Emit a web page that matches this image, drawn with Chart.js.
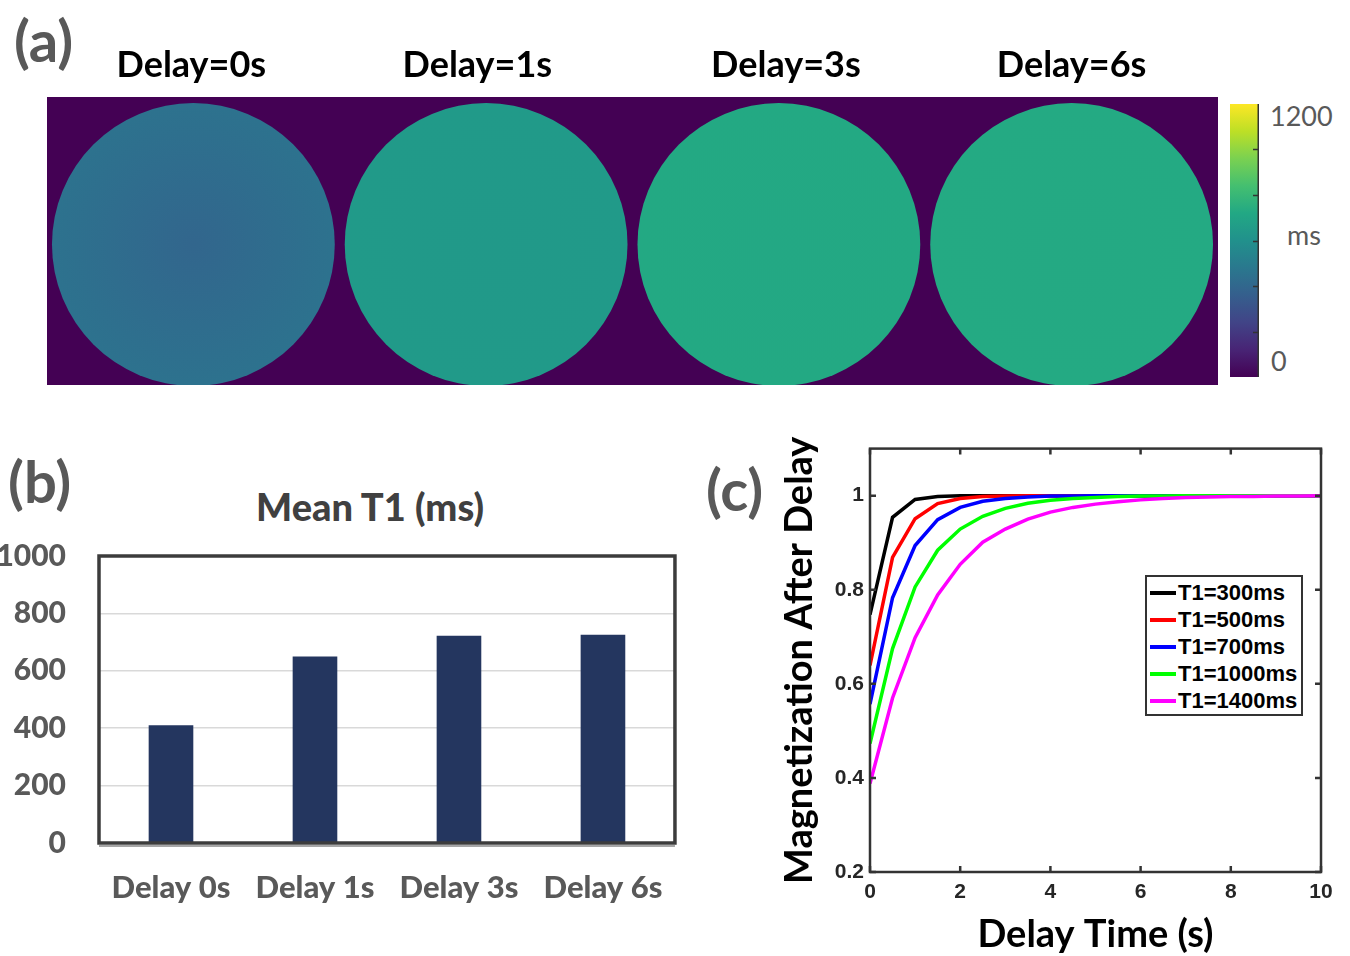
<!DOCTYPE html>
<html>
<head>
<meta charset="utf-8">
<title>T1 delay figure</title>
<script src="https://cdn.jsdelivr.net/npm/chart.js@4.4.1/dist/chart.umd.min.js"></script>
<style>
  body { margin: 0; background: #fff; }
  #page { position: relative; width: 1350px; height: 956px; overflow: hidden; font-family: Lato, sans-serif; }
  .box { position: absolute; }
  .panel { position: absolute; font-weight: 700; color: #595959; font-size: 58px; line-height: 1; }
  .cb { position: absolute; color: #595959; font-size: 27px; line-height: 1; }
  #barTitle { position: absolute; left: 200px; width: 340px; top: 483px; text-align: center; font-weight: 900;
              font-size: 38px; line-height: 46px; color: #404040; }
  #legend { position: absolute; left: 1145px; top: 575px; width: 154px; height: 135px; border: 2px solid #333;
            background: #fff; font-family: 'Liberation Sans', Arial, sans-serif; font-weight: 700; font-size: 22px; color: #000; }
  #legend .row { display: flex; align-items: center; height: 27px; }
  #legend .sw { width: 26px; height: 4px; margin: 0 2px 0 3px; }
</style>
</head>
<body>
<div id="page">
  <div class="panel" style="left:14px; top:11px;">(a)</div>
  <div class="panel" style="left:8px; top:452px;">(b)</div>
  <div class="panel" style="left:706px; top:460px;">(c)</div>

  <div class="box" style="left:47px; top:40px; width:1171px; height:345px;"><canvas id="mapChart"></canvas></div>
  <div class="box" style="left:1230px; top:104px; width:29px; height:273px;"><canvas id="cbChart"></canvas></div>
  <div class="cb" style="left:1270px; top:102px;">1200</div>
  <div class="cb" style="left:1287px; top:221px;">ms</div>
  <div class="cb" style="left:1271px; top:347px;">0</div>

  <div id="barTitle">Mean T1 (ms)</div>
  <div class="box" style="left:0px; top:478px; width:690px; height:440px;"><canvas id="barChart"></canvas></div>
  <div class="box" style="left:760px; top:430px; width:590px; height:526px;"><canvas id="lineChart"></canvas></div>
  <div id="legend"></div>
</div>

<script>
// ---- data ----
const mapTitles = ['Delay=0s', 'Delay=1s', 'Delay=3s', 'Delay=6s'];
const mapCenterT1 = [395, 640, 722, 726];   // T1 (ms) in the middle of each phantom
const mapEdgeT1 = [452, 648, 724, 728];     // T1 (ms) near the rim
const cbMax = 1200;
const cbTicks = [200, 400, 600, 800, 1000];

const delayLabels = ['Delay 0s', 'Delay 1s', 'Delay 3s', 'Delay 6s'];
const meanT1 = [410, 650, 722, 726];

const delayTime = [0, 0.5, 1, 1.5, 2, 2.5, 3, 3.5, 4, 4.5, 5, 5.5, 6, 6.5, 7, 7.5, 8, 8.5, 9, 9.5, 10];
const m300 = [0.747, 0.954, 0.992, 0.998, 0.9996, 1, 1, 1, 1, 1, 1, 1, 1, 1, 1, 1, 1, 1, 1, 1, 1];
const m500 = [0.639, 0.869, 0.951, 0.983, 0.994, 0.998, 0.999, 1, 1, 1, 1, 1, 1, 1, 1, 1, 1, 1, 1, 1, 1];
const m700 = [0.557, 0.783, 0.894, 0.949, 0.975, 0.988, 0.994, 0.997, 0.999, 0.999, 1, 1, 1, 1, 1, 1, 1, 1, 1, 1, 1];
const m1000 = [0.473, 0.675, 0.806, 0.884, 0.929, 0.956, 0.973, 0.984, 0.990, 0.994, 0.996, 0.998, 0.999, 0.999, 1, 1, 1, 1, 1, 1, 1];
const m1400 = [0.388, 0.570, 0.698, 0.789, 0.854, 0.901, 0.929, 0.950, 0.965, 0.975, 0.982, 0.987, 0.991, 0.994, 0.996, 0.997, 0.998, 0.998, 0.999, 0.999, 1];
const seriesNames = ['T1=300ms', 'T1=500ms', 'T1=700ms', 'T1=1000ms', 'T1=1400ms'];
const seriesColors = ['#000000', '#ff0000', '#0000ff', '#00ff00', '#ff00ff'];
const magTicks = [0.2, 0.4, 0.6, 0.8, 1];

// ---- helpers ----
Chart.defaults.font.family = 'Lato';
Chart.defaults.animation = false;
Chart.defaults.plugins.legend.display = false;
Chart.defaults.plugins.tooltip.enabled = false;

const viridisStops = ['#440154', '#482475', '#414487', '#355f8d', '#2a788e', '#21918c',
                      '#22a884', '#44bf70', '#7ad151', '#bddf26', '#fde725'];
function hexRgb(h) {
  return [parseInt(h.slice(1, 3), 16), parseInt(h.slice(3, 5), 16), parseInt(h.slice(5, 7), 16)];
}
function viridis(t) {
  t = Math.max(0, Math.min(1, t));
  const p = t * 10, i = Math.min(9, Math.floor(p)), f = p - i;
  const a = hexRgb(viridisStops[i]), b = hexRgb(viridisStops[i + 1]);
  const c = a.map((v, k) => Math.round(v + (b[k] - v) * f));
  return 'rgb(' + c.join(',') + ')';
}

// ---- (a) T1 maps ----
const mapRadius = 0.483;
const titleNudge = [-0.007, -0.03, 0.024, 0];   // headings are not exactly over the discs
function radiusPx(chart) {
  const x = chart.scales.x;
  if (!x) return 0;
  const r = x.getPixelForValue(mapRadius) - x.getPixelForValue(0);
  return isFinite(r) && r > 0 ? r : 0;
}
new Chart(document.getElementById('mapChart'), {
  type: 'scatter',
  data: {
    datasets: [{
      data: mapTitles.map((t, i) => ({ x: i + 0.5, y: -0.012 })),
      clip: 0,
      borderWidth: 0,
      pointRadius: (c) => radiusPx(c.chart),
      backgroundColor: (c) => {
        const i = c.dataIndex;
        const flat = viridis(meanT1[i] / cbMax);
        if (c.type !== 'data' || !c.parsed) return flat;
        const { x, y } = c.chart.scales;
        const cx = x.getPixelForValue(c.parsed.x), cy = y.getPixelForValue(c.parsed.y);
        const r = radiusPx(c.chart);
        if (!isFinite(cx) || !isFinite(cy) || !(r > 0)) return flat;
        const g = c.chart.ctx.createRadialGradient(cx, cy, 0, cx, cy, r);
        g.addColorStop(0, viridis(mapCenterT1[i] / cbMax));
        g.addColorStop(1, viridis(mapEdgeT1[i] / cbMax));
        return g;
      }
    }]
  },
  options: {
    responsive: true,
    maintainAspectRatio: false,
    events: [],
    layout: { padding: 0 },
    scales: {
      x: {
        position: 'top', min: 0, max: 4,
        grid: { display: false, drawTicks: false },
        border: { display: false },
        afterBuildTicks: (s) => { s.ticks = mapTitles.map((t, i) => ({ value: i + 0.5 + titleNudge[i] })); },
        afterFit: (s) => { s.height = 57; },
        ticks: {
          padding: 10, color: '#000',
          font: { size: 36, weight: 'bold' },
          callback: (v, i) => mapTitles[i]
        }
      },
      y: { display: false, min: -0.492, max: 0.492 }
    }
  },
  plugins: [{
    id: 'mapBackground',
    beforeDatasetsDraw(chart) {
      const { ctx, chartArea: a } = chart;
      ctx.save();
      ctx.fillStyle = viridis(0);
      ctx.fillRect(a.left, a.top, a.right - a.left, a.bottom - a.top);
      ctx.restore();
    }
  }]
});

// ---- colour bar ----
new Chart(document.getElementById('cbChart'), {
  type: 'bar',
  data: {
    labels: ['T1'],
    datasets: [{
      data: [[0, cbMax]],
      barPercentage: 1, categoryPercentage: 1, borderWidth: 0,
      backgroundColor: (c) => {
        const a = c.chart.chartArea;
        if (!a || !isFinite(a.top) || !isFinite(a.bottom)) return viridis(0.5);
        const g = c.chart.ctx.createLinearGradient(0, a.bottom, 0, a.top);
        viridisStops.forEach((col, i) => g.addColorStop(i / 10, col));
        return g;
      }
    }]
  },
  options: {
    responsive: true, maintainAspectRatio: false, events: [],
    scales: { x: { display: false }, y: { display: false, min: 0, max: cbMax } }
  },
  plugins: [{
    id: 'cbTicks',
    afterDraw(chart) {
      const { ctx, chartArea: a, scales: { y } } = chart;
      ctx.save();
      ctx.strokeStyle = '#333';
      ctx.lineWidth = 1.5;
      ctx.beginPath();
      ctx.moveTo(a.right - 0.75, a.top); ctx.lineTo(a.right - 0.75, a.bottom);
      cbTicks.forEach(v => {
        const py = Math.round(y.getPixelForValue(v)) + 0.5;
        ctx.moveTo(a.right, py); ctx.lineTo(a.right - 6, py);
      });
      ctx.stroke();
      ctx.restore();
    }
  }]
});

// ---- (b) mean T1 bars ----
new Chart(document.getElementById('barChart'), {
  type: 'bar',
  data: {
    labels: delayLabels,
    datasets: [{ data: meanT1, backgroundColor: '#24365f', barPercentage: 0.31, categoryPercentage: 1 }]
  },
  options: {
    responsive: true, maintainAspectRatio: false, events: [],
    layout: { padding: { top: 78, right: 13 } },
    scales: {
      x: {
        grid: { display: false, drawTicks: false },
        border: { display: false },
        afterFit: (s) => { s.height = 75; },
        ticks: { padding: 26, color: '#595959', font: { size: 31, weight: '900' } }
      },
      y: {
        min: 0, max: 1000,
        grid: { color: '#d9d9d9', lineWidth: 1.5, drawTicks: false },
        border: { display: false },
        afterFit: (s) => { s.width = 99; },
        ticks: { stepSize: 200, padding: 33, color: '#595959', font: { size: 30, weight: '900' }, callback: (v) => String(v) }
      }
    }
  },
  plugins: [{
    id: 'barFrame',
    afterDraw(chart) {
      const { ctx, chartArea: a } = chart;
      ctx.save();
      ctx.strokeStyle = '#a6a6a6';
      ctx.lineWidth = 2;
      ctx.beginPath(); ctx.moveTo(a.left, a.bottom + 3); ctx.lineTo(a.right, a.bottom + 3); ctx.stroke();
      ctx.strokeStyle = '#3c3c3c';
      ctx.lineWidth = 3.5;
      ctx.strokeRect(a.left, a.top, a.right - a.left, a.bottom - a.top);
      ctx.restore();
    }
  }]
});

// ---- (c) magnetization recovery ----
const magSeries = [m300, m500, m700, m1000, m1400];
new Chart(document.getElementById('lineChart'), {
  type: 'scatter',
  data: {
    datasets: magSeries.map((s, k) => ({
      label: seriesNames[k],
      data: s.map((v, i) => ({ x: delayTime[i], y: v })),
      showLine: true, borderColor: seriesColors[k], backgroundColor: seriesColors[k],
      borderWidth: 3.5, pointRadius: 0, tension: 0, order: magSeries.length - k
    }))
  },
  options: {
    responsive: true, maintainAspectRatio: false, events: [],
    layout: { padding: { right: 29 } },
    scales: {
      x: {
        type: 'linear', min: 0, max: 10,
        grid: { display: false, drawTicks: false },
        border: { display: false },
        afterFit: (s) => { s.height = 84; },
        ticks: { stepSize: 2, padding: 8, color: '#262626', font: { family: 'Liberation Sans', size: 21, weight: 'bold' } },
        title: { display: true, text: 'Delay Time (s)', color: '#000', font: { size: 38, weight: 'bold', lineHeight: 1 }, padding: { top: 0, bottom: 2 } }
      },
      y: {
        min: 0.2, max: 1.1,
        grid: { display: false, drawTicks: false },
        border: { display: false },
        afterBuildTicks: (s) => { s.ticks = magTicks.map(v => ({ value: v })); },
        afterFit: (s) => { s.width = 110; },
        ticks: { padding: 6, color: '#262626', font: { family: 'Liberation Sans', size: 21, weight: 'bold' }, callback: (v) => String(v) },
        title: { display: true, text: 'Magnetization After Delay', color: '#000', font: { size: 38, weight: 'bold', lineHeight: 1 }, padding: { top: 21, bottom: 0 } }
      }
    }
  },
  plugins: [{
    id: 'matlabBox',
    afterDraw(chart) {
      const { ctx, chartArea: a, scales: { x, y } } = chart;
      ctx.save();
      ctx.strokeStyle = '#333';
      ctx.lineWidth = 2.5;
      ctx.strokeRect(a.left, a.top, a.right - a.left, a.bottom - a.top);
      ctx.beginPath();
      x.ticks.forEach(t => {
        const px = x.getPixelForValue(t.value);
        ctx.moveTo(px, a.bottom); ctx.lineTo(px, a.bottom - 6);
        ctx.moveTo(px, a.top); ctx.lineTo(px, a.top + 6);
      });
      y.ticks.forEach(t => {
        const py = y.getPixelForValue(t.value);
        ctx.moveTo(a.left, py); ctx.lineTo(a.left + 6, py);
        ctx.moveTo(a.right, py); ctx.lineTo(a.right - 6, py);
      });
      ctx.stroke();
      ctx.restore();
    }
  }]
});

// legend for (c)
const legend = document.getElementById('legend');
legend.style.paddingTop = '2px';
seriesNames.forEach((name, k) => {
  const row = document.createElement('div');
  row.className = 'row';
  const sw = document.createElement('span');
  sw.className = 'sw';
  sw.style.background = seriesColors[k];
  const tx = document.createElement('span');
  tx.textContent = name;
  row.appendChild(sw);
  row.appendChild(tx);
  legend.appendChild(row);
});
</script>
</body>
</html>
